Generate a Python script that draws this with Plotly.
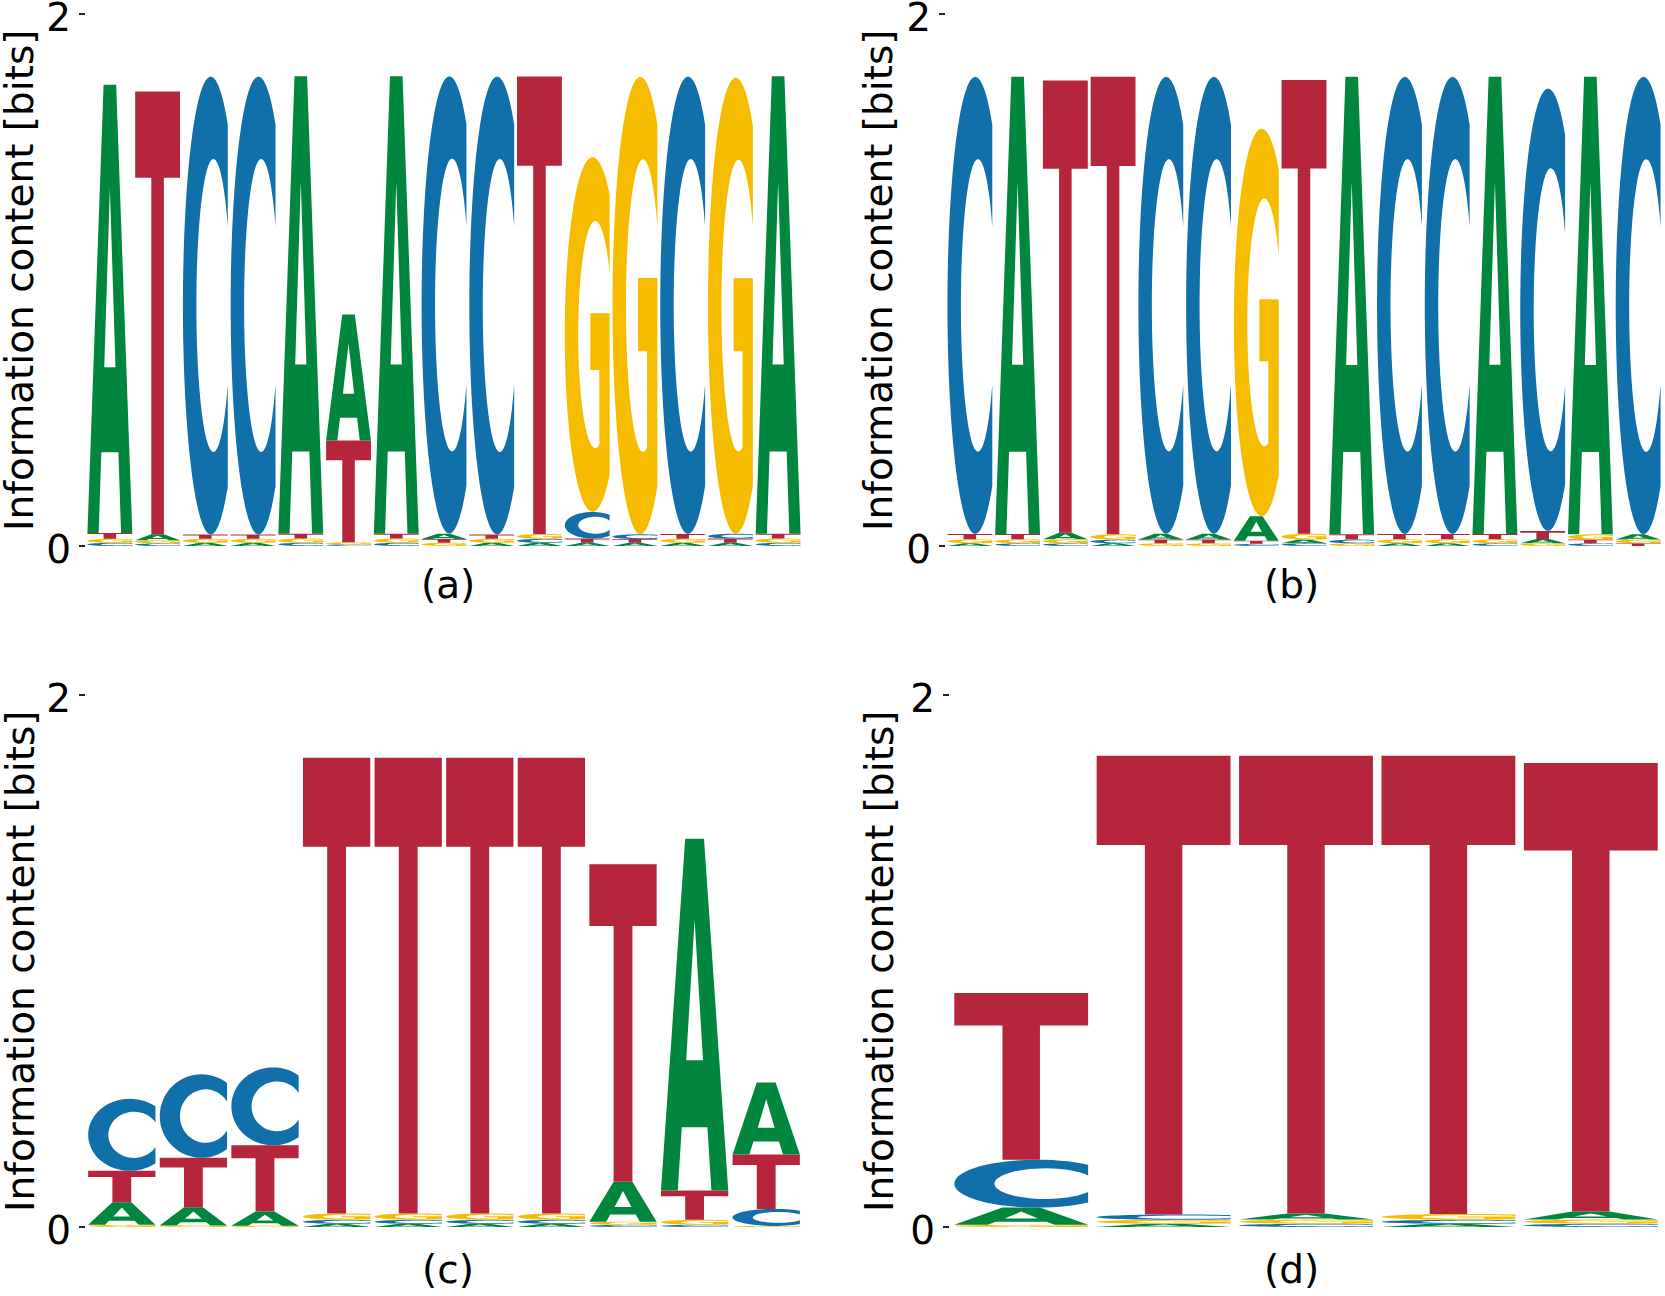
import numpy as np
import plotly.graph_objects as go

# ---------------- data (bits per base, per position) ----------------
BASES = ["A", "C", "G", "T"]

# panel (a): 15 positions  ATCCA(A/T)ACCTGGCGA
a_A = [1.685, 0.022, 0.012, 0.012, 1.720, 0.473, 1.720, 0.020, 0.012, 0.012, 0.012, 0.012, 0.012, 0.012, 1.720]
a_C = [0.012, 0.010, 1.722, 1.722, 0.012, 0.006, 0.012, 1.720, 1.722, 0.015, 0.100, 0.018, 1.720, 0.018, 0.012]
a_G = [0.015, 0.012, 0.015, 0.015, 0.016, 0.008, 0.016, 0.012, 0.015, 0.018, 1.334, 1.720, 0.015, 1.715, 0.016]
a_T = [0.022, 1.665, 0.016, 0.016, 0.018, 0.383, 0.018, 0.014, 0.016, 1.720, 0.016, 0.014, 0.018, 0.016, 0.018]

# panel (b): 15 positions  CATTCCGTACCACAC
b_A = [0.010, 1.719, 0.025, 0.010, 0.022, 0.022, 0.092, 0.014, 1.720, 0.010, 0.010, 1.719, 0.016, 1.720, 0.020]
b_C = [1.719, 0.010, 0.010, 0.014, 1.718, 1.718, 0.008, 0.010, 0.014, 1.719, 1.719, 0.010, 1.664, 0.010, 1.720]
b_G = [0.015, 0.015, 0.015, 0.020, 0.010, 0.010, 1.457, 0.022, 0.010, 0.015, 0.015, 0.015, 0.010, 0.020, 0.014]
b_T = [0.020, 0.020, 1.700, 1.720, 0.014, 0.014, 0.012, 1.706, 0.020, 0.020, 0.020, 0.020, 0.030, 0.014, 0.010]

# panel (c): 10 positions
c_A = [0.085, 0.068, 0.053, 0.012, 0.012, 0.012, 0.012, 0.150, 1.323, 0.270]
c_C = [0.271, 0.314, 0.293, 0.015, 0.015, 0.015, 0.015, 0.008, 0.008, 0.064]
c_G = [0.008, 0.006, 0.005, 0.024, 0.024, 0.024, 0.024, 0.012, 0.019, 0.004]
c_T = [0.118, 0.186, 0.249, 1.713, 1.713, 1.713, 1.713, 1.194, 0.110, 0.205]

# panel (d): 5 positions
d_A = [0.065, 0.012, 0.023, 0.012, 0.030]
d_C = [0.180, 0.020, 0.012, 0.015, 0.012]
d_G = [0.008, 0.015, 0.016, 0.022, 0.016]
d_T = [0.627, 1.725, 1.721, 1.723, 1.686]

panel_labels = ["(a)", "(b)", "(c)", "(d)"]
y_title = "Information content [bits]"
y_tickvals = [0, 2]
y_ticktext = ["0", "2"]

# ---------------- style ----------------
COLORS = {"A": "#00863D", "C": "#1170AA", "G": "#F5BC00", "T": "#B5263C"}
FONT = "DejaVu Sans"
FS = 39
W, H = 1665, 1296
LETTER_W = 0.94


def arc(cx, cy, rx, ry, t0, t1, n=48):
    t = np.radians(np.linspace(t0, t1, n))
    return list(zip(cx + rx * np.cos(t), cy + ry * np.sin(t)))


# glyph outlines in a unit box (style, not data)
_ta = np.degrees(np.arccos((1 - 0.62) / 0.62))
_tb = np.degrees(np.arccos((1 - 0.68) / 0.38))
_tg = np.degrees(np.arccos((0.77 - 0.68) / 0.38))
GLYPHS = {
    "A": [
        [(0, 0), (0.25, 0), (0.31, 0.18), (0.69, 0.18), (0.75, 0), (1, 0), (0.64, 1), (0.36, 1)],
        [(0.375, 0.37), (0.625, 0.37), (0.5, 0.77)],
    ],
    "T": [
        [(0, 1), (1, 1), (1, 0.805), (0.64, 0.805), (0.64, 0), (0.36, 0), (0.36, 0.805), (0, 0.805)],
    ],
    "C": [
        arc(0.62, 0.5, 0.62, 0.5, _ta, 360 - _ta) + arc(0.68, 0.5, 0.38, 0.32, 360 - _tb, _tb),
    ],
    "G": [
        arc(0.62, 0.5, 0.62, 0.5, _ta, 360 - _ta)
        + [(1, 0.56), (0.57, 0.56), (0.57, 0.40), (0.77, 0.40)]
        + arc(0.68, 0.5, 0.38, 0.32, 360 - _tg, _tb),
    ],
}


def glyph_path(letter, x0, w, y0, h):
    parts = []
    for contour in GLYPHS[letter]:
        pts = [(x0 + u * w, y0 + v * h) for u, v in contour]
        parts.append("M " + " L ".join(f"{x:.5f},{y:.5f}" for x, y in pts) + " Z")
    return " ".join(parts)


# panel geometry in pixels: (x_left, x_right, y_top(2 bits), y_bottom(0 bits), label_x, label_y, title_x)
panels = [
    (dict(A=a_A, C=a_C, G=a_G, T=a_T), (86, 802, 14, 546, 448, 584, 20)),
    (dict(A=b_A, C=b_C, G=b_G, T=b_T), (946, 1662, 14, 546, 1291, 584, 879)),
    (dict(A=c_A, C=c_C, G=c_G, T=c_T), (86, 802, 695, 1227, 448, 1269, 20)),
    (dict(A=d_A, C=d_C, G=d_G, T=d_T), (950, 1662, 695, 1227, 1291, 1269, 879)),
]

fig = go.Figure()
shapes = []
annotations = []
layout_axes = {}

for i, (mat, (xl, xr, yt, yb, lx, ly, tx)) in enumerate(panels):
    k = "" if i == 0 else str(i + 1)
    xref, yref = "x" + k, "y" + k
    L = len(mat["A"])
    pos = list(range(L))
    totals = [sum(mat[b][p] for b in BASES) for p in pos]
    fig.add_trace(go.Scatter(x=pos, y=totals, mode="markers", marker=dict(opacity=0),
                             xaxis=xref, yaxis=yref, hoverinfo="skip", showlegend=False))
    for p in pos:
        order = sorted(BASES, key=lambda b: mat[b][p])
        base = 0.0
        for b in order:
            h = mat[b][p]
            if h <= 0:
                continue
            shapes.append(dict(type="path", xref=xref, yref=yref,
                               path=glyph_path(b, p - LETTER_W / 2, LETTER_W, base, h),
                               fillcolor=COLORS[b], line=dict(width=0), fillrule="evenodd",
                               layer="above"))
            base += h
    layout_axes["xaxis" + k] = dict(domain=[xl / W, xr / W], range=[-0.5, L - 0.5], visible=False,
                                    anchor=yref, fixedrange=True, automargin=False)
    layout_axes["yaxis" + k] = dict(domain=[1 - yb / H, 1 - yt / H], range=[0, 2], anchor=xref,
                                    tickvals=y_tickvals, ticktext=y_ticktext, ticks="outside",
                                    ticklen=6, tickwidth=1.2, tickcolor="#222", showgrid=False,
                                    zeroline=False, showline=False, ticklabelstandoff=0,
                                    ticklabelshift=3, ticklabeloverflow="allow",
                                    tickfont=dict(family=FONT, size=FS, color="black"),
                                    fixedrange=True, automargin=False)
    annotations.append(dict(text=panel_labels[i], x=lx / W, y=1 - ly / H, xref="paper", yref="paper",
                            showarrow=False, xanchor="center", yanchor="middle",
                            font=dict(family=FONT, size=FS, color="black")))
    annotations.append(dict(text=y_title, x=tx / W, y=1 - (yt + yb) / 2 / H, xref="paper", yref="paper",
                            showarrow=False, xanchor="center", yanchor="middle", textangle=-90,
                            font=dict(family=FONT, size=FS, color="black")))

fig.update_layout(width=W, height=H, margin=dict(l=0, r=0, t=0, b=0, autoexpand=False), autosize=False,
                  plot_bgcolor="white", paper_bgcolor="white", showlegend=False,
                  shapes=shapes, annotations=annotations, **layout_axes)

fig.write_html("out.html", config={"displayModeBar": False, "staticPlot": True},
               post_script="document.body.style.margin='0px';")
